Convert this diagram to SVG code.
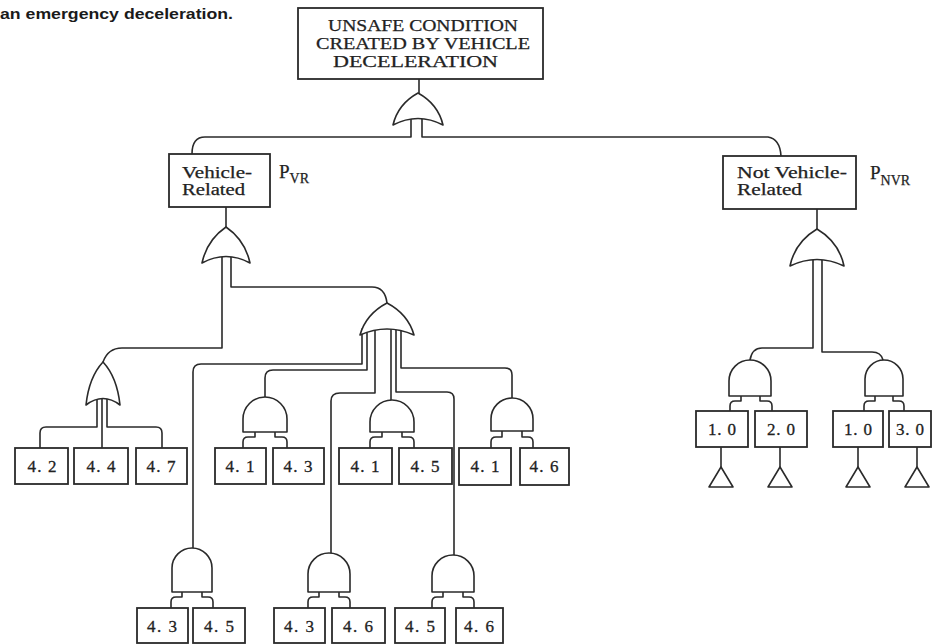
<svg xmlns="http://www.w3.org/2000/svg" width="932" height="644" viewBox="0 0 932 644">
<style>
.ln{fill:none;stroke:#2a2a2a;stroke-width:1.6;stroke-linejoin:round;stroke-linecap:round}
.bx{fill:#fff;stroke:#2a2a2a;stroke-width:1.8}
.gt{fill:#fff;stroke:#2a2a2a;stroke-width:1.6;stroke-linejoin:round}
.t{font-family:"Liberation Serif",serif;fill:#222;stroke:#222;stroke-width:0.25;font-size:16px}
.n{font-family:"Liberation Serif",serif;fill:#222;stroke:#222;stroke-width:0.3;font-size:17px;text-anchor:middle}
.p{font-family:"Liberation Serif",serif;fill:#222;stroke:#222;stroke-width:0.25;font-size:19px}
.s{font-size:14px}
.cap{font-family:"Liberation Sans",Arial,sans-serif;font-weight:bold;font-size:15px;fill:#1a1a1a}
</style>
<rect width="932" height="644" fill="#fff"/>
<text class="cap" x="0" y="19" textLength="233" lengthAdjust="spacingAndGlyphs">an emergency deceleration.</text>

<g id="connectors">
<path class="ln" d="M419,79 V93"/>
<path class="ln" d="M411,119 V137 H205 Q192,137 192,154"/>
<path class="ln" d="M422,119 V137 H768 Q780,139 781,156"/>
<path class="ln" d="M226,207 V227"/>
<path class="ln" d="M222,256 V348 H122 Q108,348 103,362"/>
<path class="ln" d="M231,256 V287 H372 Q385,287 387,303"/>
<path class="ln" d="M97,399 V427 H46 Q40,427 40,433 V448"/>
<path class="ln" d="M102,399 V448"/>
<path class="ln" d="M107,399 V427 H156 Q162,427 162,433 V448"/>
<path class="ln" d="M362,329 V364 H201 Q193,364 193,372 V548"/>
<path class="ln" d="M367,329 V370 H273 Q265,370 265,378 V397"/>
<path class="ln" d="M375,329 V393 H340 Q331,393 331,401 V553"/>
<path class="ln" d="M391,329 V400"/>
<path class="ln" d="M396,329 V392 H447 Q454,392 454,399 V555"/>
<path class="ln" d="M401,329 V368 H505 Q512,368 512,375 V398"/>
<path class="ln" d="M817,209 V229"/>
<path class="ln" d="M813,260 V348 H762 Q752,348 750,360"/>
<path class="ln" d="M822,260 V352 H872 Q881,352 883,360"/>
<path class="ln" d="M255,432 V437 H248 Q243,437 243,442 V448 M275,432 V437 H282 Q287,437 287,442 V448"/>
<path class="ln" d="M382,432 V437 H375 Q370,437 370,442 V448 M402,432 V437 H409 Q414,437 414,442 V448"/>
<path class="ln" d="M502,431 V437 H496 Q491,437 491,442 V448 M522,431 V437 H528 Q533,437 533,442 V448"/>
<path class="ln" d="M182,592 V597 H176 Q171,597 171,602 V608 M202,592 V597 H208 Q213,597 213,602 V608"/>
<path class="ln" d="M319,592 V597 H313 Q308,597 308,602 V608 M339,592 V597 H345 Q350,597 350,602 V608"/>
<path class="ln" d="M443,592 V597 H437 Q432,597 432,602 V608 M463,592 V597 H469 Q474,597 474,602 V608"/>
<path class="ln" d="M741,396 V401 H735 Q730,401 730,406 V411 M760,396 V401 H767 Q772,401 772,406 V411"/>
<path class="ln" d="M875,396 V401 H869 Q864,401 864,406 V411 M893,396 V401 H899 Q904,401 904,406 V411"/>
<path class="ln" d="M721,447 V467 M780,447 V467 M858,447 V467 M917,447 V467"/>
</g>

<g id="top">
<rect class="bx" x="298" y="8" width="245" height="71"/>
<text class="t" x="328" y="31" textLength="190" lengthAdjust="spacingAndGlyphs">UNSAFE CONDITION</text>
<text class="t" x="316" y="49" textLength="214" lengthAdjust="spacingAndGlyphs">CREATED BY VEHICLE</text>
<text class="t" x="333" y="67" textLength="165" lengthAdjust="spacingAndGlyphs">DECELERATION</text>
</g>
<g id="or-top"><path class="gt" d="M393,125 Q398,104 418,93 Q438,104 443,125 Q418,112 393,125 Z"/></g>

<g id="vehicle-related">
<rect class="bx" x="169" y="154" width="101" height="53"/>
<text class="t" x="182" y="178" textLength="70" lengthAdjust="spacingAndGlyphs">Vehicle-</text>
<text class="t" x="182" y="195" textLength="63" lengthAdjust="spacingAndGlyphs">Related</text>
<text class="p" x="279" y="178">P<tspan class="s" dy="5">VR</tspan></text>
</g>
<g id="or-vr"><path class="gt" d="M202,263 Q207,240 226,227 Q245,240 250,263 Q226,250 202,263 Z"/></g>

<g id="not-vehicle-related">
<rect class="bx" x="723" y="156" width="133" height="53"/>
<text class="t" x="737" y="178" textLength="110" lengthAdjust="spacingAndGlyphs">Not Vehicle-</text>
<text class="t" x="737" y="195" textLength="65" lengthAdjust="spacingAndGlyphs">Related</text>
<text class="p" x="870" y="179">P<tspan class="s" dy="6">NVR</tspan></text>
</g>
<g id="or-nvr"><path class="gt" d="M790,266 Q795,242 817,229 Q839,242 844,266 Q817,253 790,266 Z"/></g>

<g id="or-left"><path class="gt" d="M86,405 Q89,377 103,362 Q117,377 120,405 Q103,392 86,405 Z"/></g>
<g id="or-mid"><path class="gt" d="M360,335 Q366,314 387,303 Q408,314 414,335 Q387,323 360,335 Z"/></g>

<g id="and-41-43"><path class="gt" d="M243,432 V419 A22,22 0 0 1 287,419 V432 Z"/></g>
<g id="and-41-45"><path class="gt" d="M370,432 V422 A22,22 0 0 1 414,422 V432 Z"/></g>
<g id="and-41-46"><path class="gt" d="M491,431 V419 A21,21 0 0 1 533,419 V431 Z"/></g>
<g id="and-43-45"><path class="gt" d="M172,592 V568 A20,20 0 0 1 212,568 V592 Z"/></g>
<g id="and-43-46"><path class="gt" d="M308,592 V574 A21,21 0 0 1 350,574 V592 Z"/></g>
<g id="and-45-46"><path class="gt" d="M432,592 V576 A21,21 0 0 1 474,576 V592 Z"/></g>
<g id="and-10-20"><path class="gt" d="M729,396 V381 A21,21 0 0 1 771,381 V396 Z"/></g>
<g id="and-10-30"><path class="gt" d="M865,396 V379 A19,19 0 0 1 903,379 V396 Z"/></g>

<g id="b42"><rect class="bx" x="15" y="448" width="53" height="36"/><text class="n" x="42" y="472" textLength="29">4. 2</text></g>
<g id="b44"><rect class="bx" x="74" y="448" width="54" height="36"/><text class="n" x="101" y="472" textLength="29">4. 4</text></g>
<g id="b47"><rect class="bx" x="136" y="448" width="51" height="36"/><text class="n" x="161" y="472" textLength="29">4. 7</text></g>
<g id="b41a"><rect class="bx" x="215" y="448" width="51" height="36"/><text class="n" x="240" y="472" textLength="29">4. 1</text></g>
<g id="b43a"><rect class="bx" x="273" y="448" width="51" height="36"/><text class="n" x="298" y="472" textLength="29">4. 3</text></g>
<g id="b41b"><rect class="bx" x="339" y="448" width="53" height="36"/><text class="n" x="365" y="472" textLength="29">4. 1</text></g>
<g id="b45a"><rect class="bx" x="399" y="448" width="53" height="36"/><text class="n" x="425" y="472" textLength="29">4. 5</text></g>
<g id="b41c"><rect class="bx" x="459" y="448" width="52" height="37"/><text class="n" x="485" y="472" textLength="29">4. 1</text></g>
<g id="b46a"><rect class="bx" x="520" y="448" width="49" height="37"/><text class="n" x="544" y="472" textLength="29">4. 6</text></g>

<g id="b43b"><rect class="bx" x="137" y="608" width="51" height="35"/><text class="n" x="162" y="632" textLength="30">4. 3</text></g>
<g id="b45b"><rect class="bx" x="193" y="608" width="52" height="35"/><text class="n" x="219" y="632" textLength="30">4. 5</text></g>
<g id="b43c"><rect class="bx" x="274" y="608" width="51" height="35"/><text class="n" x="299" y="632" textLength="30">4. 3</text></g>
<g id="b46b"><rect class="bx" x="332" y="608" width="53" height="35"/><text class="n" x="358" y="632" textLength="30">4. 6</text></g>
<g id="b45c"><rect class="bx" x="395" y="608" width="50" height="35"/><text class="n" x="420" y="632" textLength="30">4. 5</text></g>
<g id="b46c"><rect class="bx" x="456" y="608" width="47" height="35"/><text class="n" x="479" y="632" textLength="30">4. 6</text></g>

<g id="b10a"><rect class="bx" x="696" y="411" width="52" height="36"/><text class="n" x="722" y="435" textLength="28">1. 0</text></g>
<g id="b20"><rect class="bx" x="755" y="411" width="52" height="36"/><text class="n" x="781" y="435" textLength="28">2. 0</text></g>
<g id="b10b"><rect class="bx" x="833" y="411" width="50" height="36"/><text class="n" x="858" y="435" textLength="28">1. 0</text></g>
<g id="b30"><rect class="bx" x="889" y="411" width="42" height="36"/><text class="n" x="910" y="435" textLength="28">3. 0</text></g>

<g id="tr1"><path class="gt" d="M721,467 L733,487 H709 Z"/></g>
<g id="tr2"><path class="gt" d="M780,467 L792,487 H768 Z"/></g>
<g id="tr3"><path class="gt" d="M858,467 L870,487 H846 Z"/></g>
<g id="tr4"><path class="gt" d="M917,467 L929,487 H905 Z"/></g>
</svg>
